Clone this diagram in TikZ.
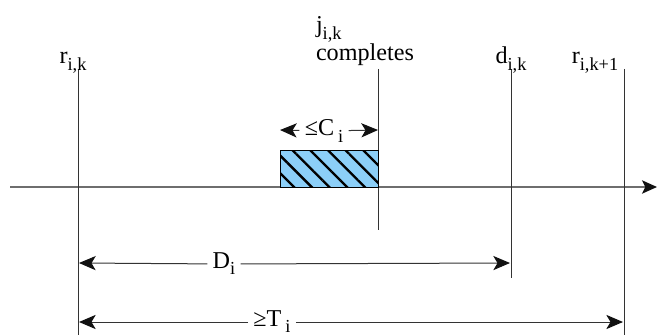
\documentclass[tikz,border=0pt]{standalone}
\usepackage{fontspec}
\setmainfont{Liberation Serif}
\usetikzlibrary{
  positioning,
  arrows.meta,
  patterns.meta,
}
\definecolor{lineCol}{HTML}{333333}
\definecolor{tipCol}{HTML}{111111}
\definecolor{axisCol}{HTML}{6E6E6E}
\definecolor{jobFill}{HTML}{8CCFF8}
\newcommand{\sub}[1]{\raisebox{-0.55ex}{\fontsize{11}{12}\selectfont #1}}
\tikzset{
  axisline/.style={axisCol, line width=1.1pt, -{Stealth[length=9pt, width=8pt, inset=2pt, color=tipCol]}},
  eventline/.style={lineCol, line width=0.5pt},
  span/.style={-{Stealth[length=10pt, width=8.5pt, inset=2.5pt, color=tipCol]}, lineCol, line width=0.6pt},
  lbl/.style={font=\fontsize{14.5}{16}\selectfont, inner sep=1pt},
  spanlbl/.style={lbl, inner sep=3pt},
  jobbox/.style={
    draw=black, line width=0.6pt, preaction={fill=jobFill},
    pattern={Lines[angle=-45, distance=7.5pt, line width=1.4pt]},
  },
}
\begin{document}
\begin{tikzpicture}[x=0.6pt, y=-0.6pt]

  \useasboundingbox (0,0) rectangle (657,335);

  % Time axis
  \coordinate (axL) at (10,187);
  \coordinate (axR) at (657,187);
  \draw[axisline] (axL) -- (axR);

  % Event instants
  \draw[eventline] (78,69) -- (78,335);
  \draw[eventline] (378,69) -- (378,230);
  \draw[eventline] (511,69) -- (511,278);
  \draw[eventline] (624,69) -- (624,335);

  \node[lbl, anchor=base] (rk) at (73,64) {r\sub{i,k}};
  \node[lbl, anchor=base west] (cmpl) at (314,61) {completes};
  \node[lbl, anchor=base west] (jk) at (314,33) {j\sub{i,k}};
  \node[lbl, anchor=base] (dk) at (511,64) {d\sub{i,k}};
  \node[lbl, anchor=base] (rk1) at (595,64) {r\sub{i,k+1}};

  % Execution of the job
  \node[jobbox, minimum width=58.8pt, minimum height=22.2pt, inner sep=0pt] (job) at (329,168.5) {};

  % Execution time
  \coordinate (cL) at (280,130);
  \coordinate (cR) at (378,130);
  \node[spanlbl] (clbl) at (324,131) {≤C\,\sub{i}};
  \draw[span] (clbl) -- (cL);
  \draw[span] (clbl) -- (cR);

  % Relative deadline
  \coordinate (dL) at (79,263);
  \coordinate (dR) at (510,263);
  \node[spanlbl] (dlbl) at (224,264) {D\sub{i}};
  \draw[span] (dlbl) -- (dL);
  \draw[span] (dlbl) -- (dR);

  % Period
  \coordinate (tL) at (79,322);
  \coordinate (tR) at (623,322);
  \node[spanlbl] (tlbl) at (272,322) {≥T\,\sub{i}};
  \draw[span] (tlbl) -- (tL);
  \draw[span] (tlbl) -- (tR);

\end{tikzpicture}
\end{document}
